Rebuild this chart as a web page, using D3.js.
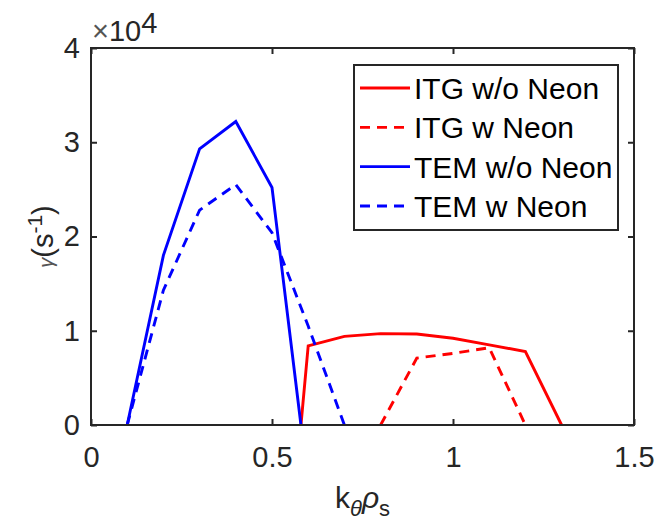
<!DOCTYPE html>
<html>
<head>
<meta charset="utf-8">
<script src="https://cdn.jsdelivr.net/npm/d3@7"></script>
<style>
body { margin: 0; background: #fff; }
text { font-family: "Liberation Sans", Arial, sans-serif; }
</style>
</head>
<body>
<svg id="chart"></svg>
<script>
var w = 667;
var h = 525;

// k_theta rho_s values and growth rates (s^-1)
var itgNoX = [0.58, 0.6, 0.7, 0.8, 0.9, 1.0, 1.1, 1.2, 1.3];
var itgNoY = [0, 8400, 9400, 9700, 9650, 9200, 8500, 7800, 0];
var itgNeX = [0.8, 0.9, 1.0, 1.1, 1.2];
var itgNeY = [0, 7100, 7600, 8200, 0];
var temNoX = [0.1, 0.2, 0.3, 0.4, 0.5, 0.58];
var temNoY = [0, 18000, 29300, 32200, 25200, 0];
var temNeX = [0.1, 0.2, 0.3, 0.4, 0.5, 0.6, 0.7];
var temNeY = [0, 14300, 22800, 25500, 20400, 10500, 0];

var seriesNames = ["ITG w/o Neon", "ITG w Neon", "TEM w/o Neon", "TEM w Neon"];
var xTicks = [0, 0.5, 1, 1.5];
var yTicks = [0, 10000, 20000, 30000, 40000];

var series = [
	{name: seriesNames[0], xs: itgNoX, ys: itgNoY, color: "#ff0000", dash: null},
	{name: seriesNames[1], xs: itgNeX, ys: itgNeY, color: "#ff0000", dash: "10,7"},
	{name: seriesNames[2], xs: temNoX, ys: temNoY, color: "#0000ff", dash: null},
	{name: seriesNames[3], xs: temNeX, ys: temNeY, color: "#0000ff", dash: "10,7"}
];

// plot box (window.top is taken, so pad names)
var padL = 91, padR = 634, padT = 48, padB = 425;
var axisColor = "#262626";

var x = d3.scaleLinear().domain([0, 1.5]).range([padL, padR]);
var y = d3.scaleLinear().domain([0, 40000]).range([padB, padT]);

var svg = d3.select("#chart").attr("width", w).attr("height", h);

// data lines
var line = d3.line()
	.x(function(d) { return x(d[0]); })
	.y(function(d) { return y(d[1]); });

svg.selectAll("path.series")
	.data(series)
	.join("path")
	.attr("class", "series")
	.attr("d", function(s) {
		return line(s.xs.map(function(v, i) { return [v, s.ys[i]]; }));
	})
	.attr("fill", "none")
	.attr("stroke", function(s) { return s.color; })
	.attr("stroke-width", 2.9)
	.attr("stroke-dasharray", function(s) { return s.dash; })
	.attr("stroke-linejoin", "miter");

// axes (ticks pointing inward, box all round)
function styleAxis(g) {
	g.select(".domain").remove();
	g.selectAll(".tick line").attr("stroke", axisColor).attr("stroke-width", 2);
	g.selectAll(".tick text").attr("fill", axisColor).attr("font-size", "29px")
		.attr("font-family", "Liberation Sans, Arial, sans-serif");
}

svg.append("g")
	.attr("transform", "translate(0," + padB + ")")
	.call(d3.axisBottom(x).tickValues(xTicks).tickSize(-6).tickPadding(21)
		.tickFormat(function(d) { return d3.format("")(d); }))
	.call(styleAxis);

svg.append("g")
	.attr("transform", "translate(0," + padT + ")")
	.call(d3.axisTop(x).tickValues(xTicks).tickSize(-6).tickFormat(""))
	.call(styleAxis);

svg.append("g")
	.attr("transform", "translate(" + padL + ",0)")
	.call(d3.axisLeft(y).tickValues(yTicks).tickSize(-6).tickPadding(11)
		.tickFormat(function(d) { return d / 10000; }))
	.call(styleAxis);

svg.append("g")
	.attr("transform", "translate(" + padR + ",0)")
	.call(d3.axisRight(y).tickValues(yTicks).tickSize(-6).tickFormat(""))
	.call(styleAxis);

svg.append("rect")
	.attr("x", padL).attr("y", padT)
	.attr("width", padR - padL).attr("height", padB - padT)
	.attr("fill", "none")
	.attr("stroke", axisColor)
	.attr("stroke-width", 2);

// exponent label
var expo = svg.append("text")
	.attr("x", padL + 1).attr("y", 41)
	.attr("font-size", "29px")
	.attr("fill", axisColor);
expo.append("tspan").attr("fill", "#555").text("\u00d7");
expo.append("tspan").text("10");
expo.append("tspan").attr("dy", -8).text("4");

// x label
var xl = svg.append("text")
	.attr("x", (padL + padR) / 2).attr("y", 508)
	.attr("text-anchor", "middle")
	.attr("font-size", "30px")
	.attr("fill", axisColor);
xl.append("tspan").text("k");
xl.append("tspan").attr("font-size", "22px").attr("font-style", "italic").attr("dy", 8).text("\u03b8");
xl.append("tspan").attr("font-style", "italic").attr("dy", -8).text("\u03c1");
xl.append("tspan").attr("font-size", "22px").attr("dy", 8).text("s");

// y label
var yl = svg.append("text")
	.attr("transform", "translate(53," + ((padT + padB) / 2) + ") rotate(-90)")
	.attr("text-anchor", "middle")
	.attr("font-size", "29px")
	.attr("fill", axisColor);
yl.append("tspan").attr("font-size", "20px").attr("font-style", "italic").attr("fill", "#555").text("\u03b3");
yl.append("tspan").text("(s");
yl.append("tspan").attr("font-size", "21px").attr("dy", -11).text("-1");
yl.append("tspan").attr("dy", 11).text(")");

// legend
var lg = svg.append("g");
lg.append("rect")
	.attr("x", 354).attr("y", 65)
	.attr("width", 264).attr("height", 165)
	.attr("fill", "#fff")
	.attr("stroke", axisColor)
	.attr("stroke-width", 2);

var rowY = d3.scalePoint().domain(seriesNames).range([88, 206]);

lg.selectAll("line.key")
	.data(series)
	.join("line")
	.attr("class", "key")
	.attr("x1", 360).attr("x2", 410)
	.attr("y1", function(s) { return rowY(s.name); })
	.attr("y2", function(s) { return rowY(s.name); })
	.attr("stroke", function(s) { return s.color; })
	.attr("stroke-width", 2.9)
	.attr("stroke-dasharray", function(s) { return s.dash; });

lg.selectAll("text.key")
	.data(series)
	.join("text")
	.attr("class", "key")
	.attr("x", 414)
	.attr("y", function(s) { return rowY(s.name) + 11; })
	.attr("font-size", "30px")
	.attr("fill", "#000")
	.text(function(s) { return s.name; });
</script>
</body>
</html>
